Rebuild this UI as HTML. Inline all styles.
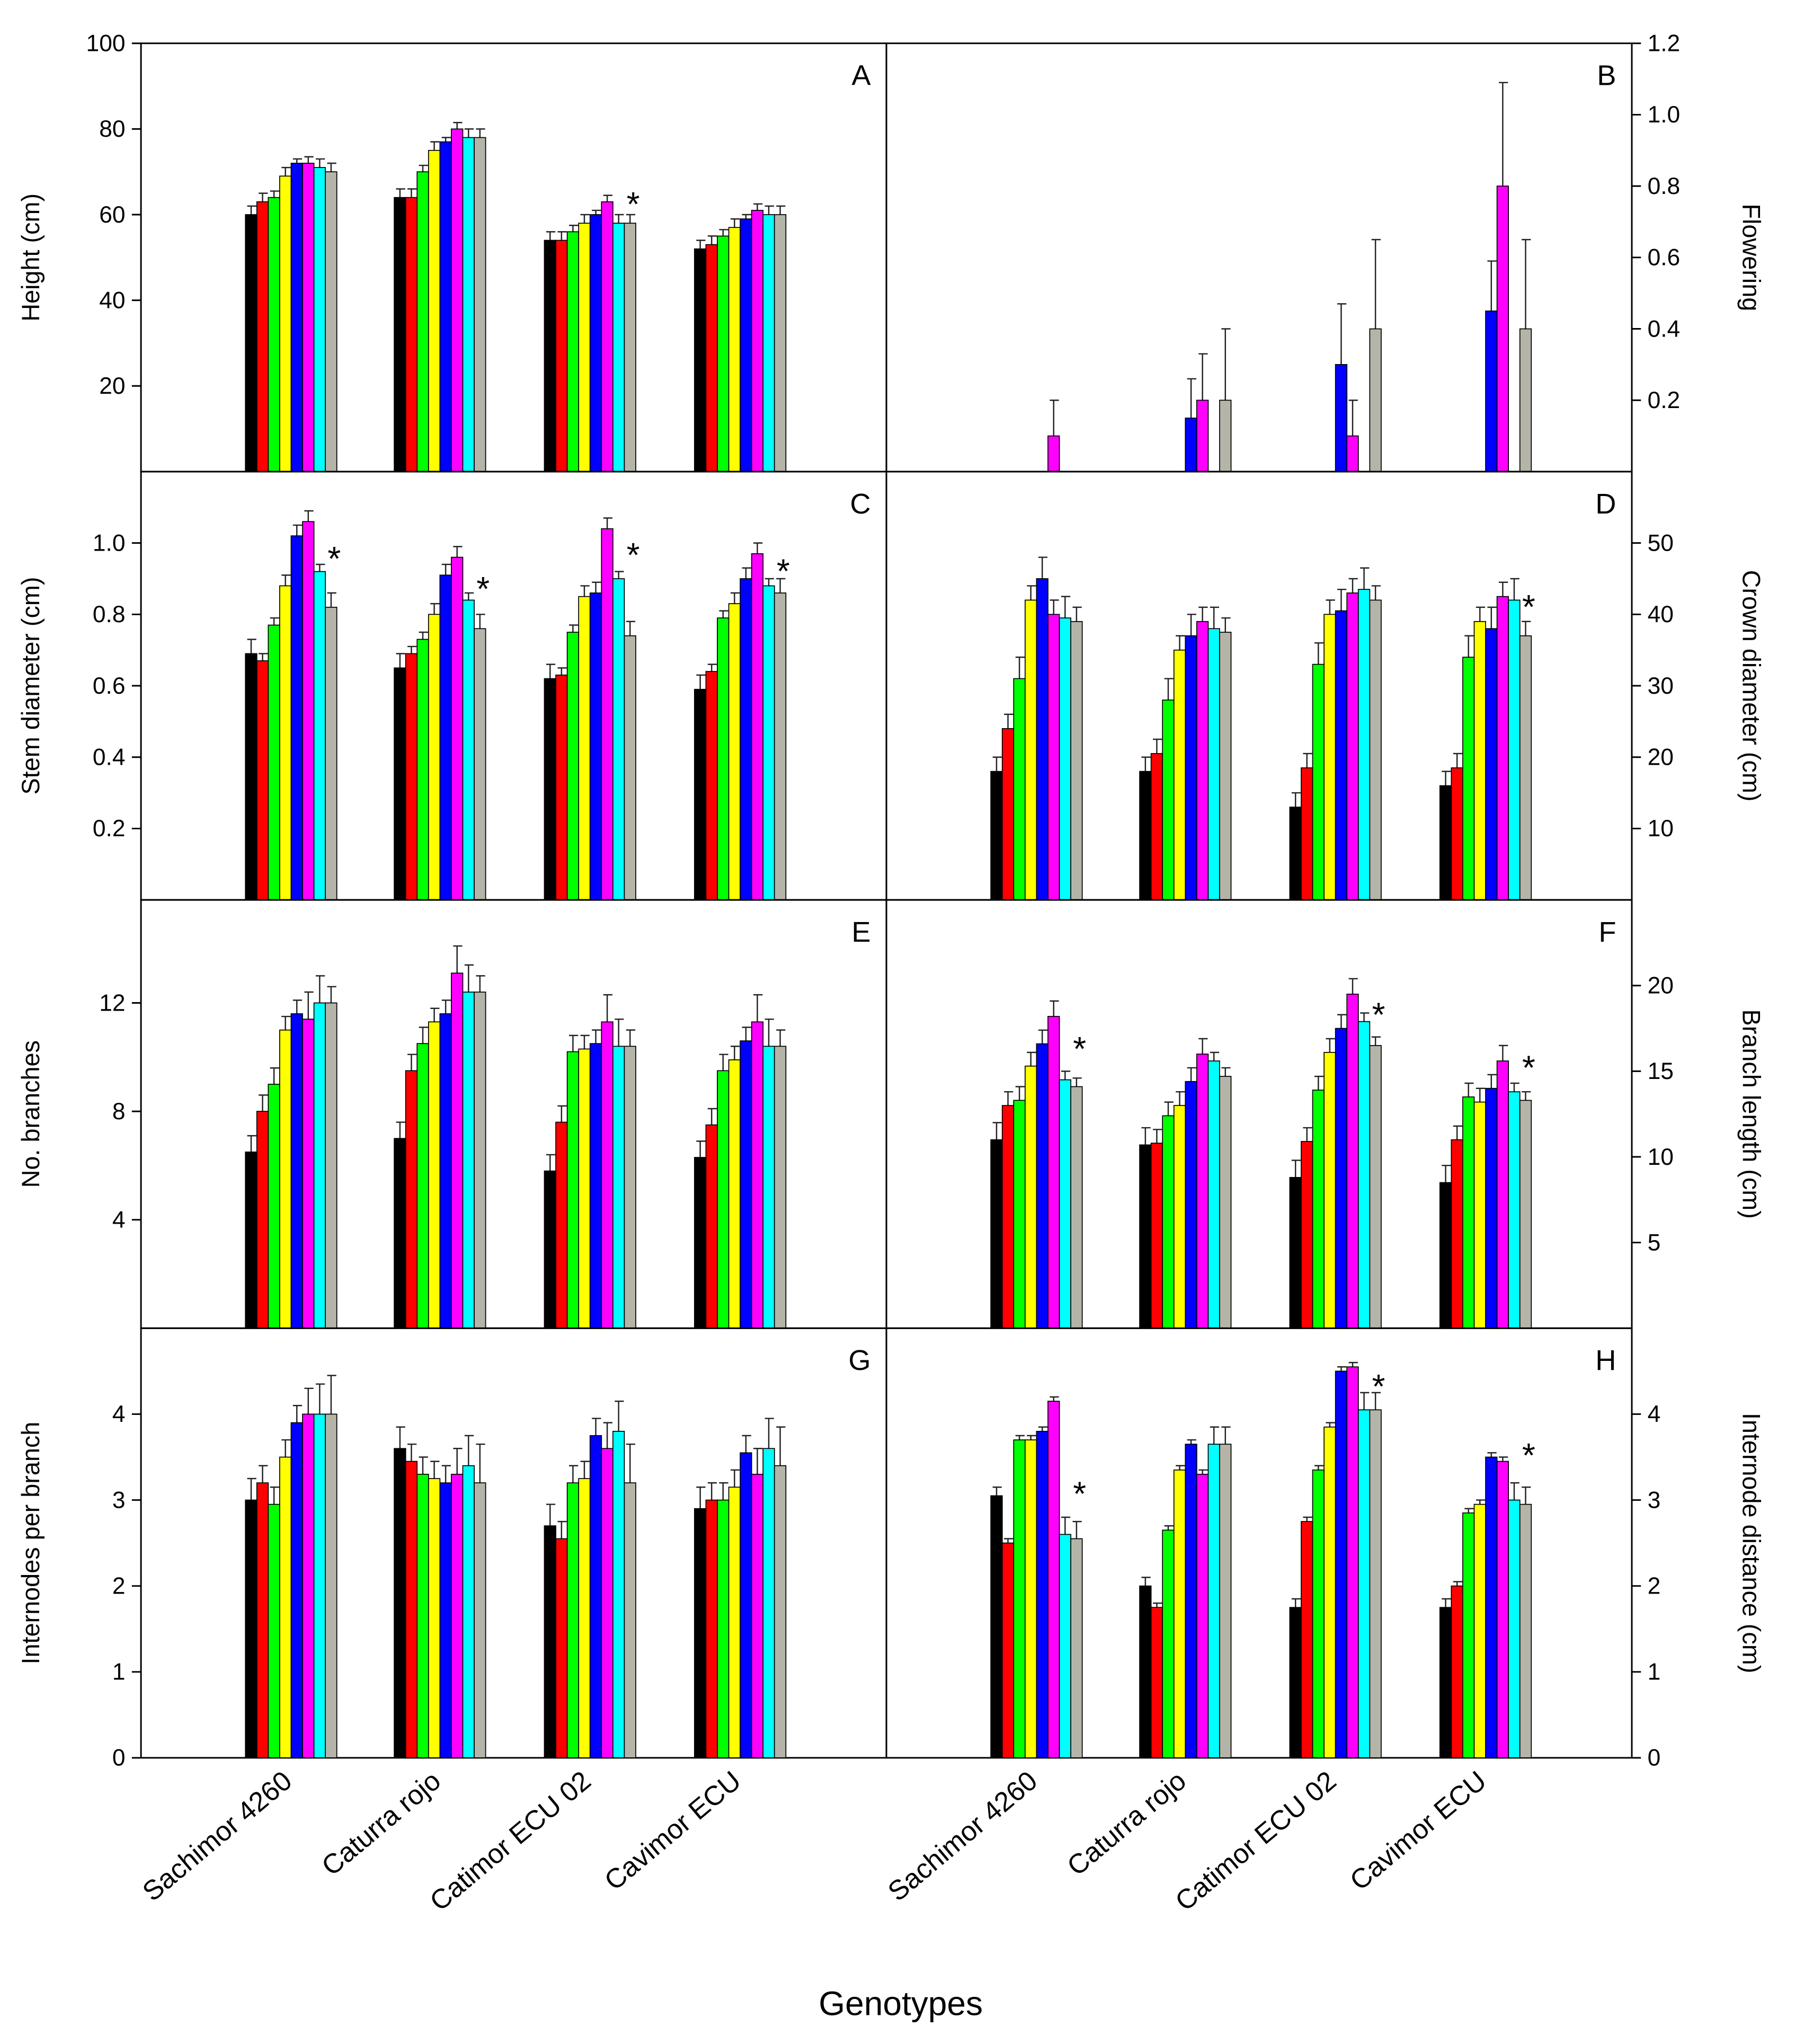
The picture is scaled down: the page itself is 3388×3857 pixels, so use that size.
<!DOCTYPE html>
<html><head><meta charset="utf-8"><style>
html,body{margin:0;padding:0;background:#fff}
svg{display:block}
text{font-family:"Liberation Sans",sans-serif;fill:#000}
</style></head><body>
<svg id="chart" width="3388" height="3857" viewBox="0 0 1375 1565" xmlns="http://www.w3.org/2000/svg">
<rect x="0" y="0" width="1375" height="1565" fill="#fff"/>
<g id="marks"></g>
<text x="690" y="1543" font-size="26" text-anchor="middle">Genotypes</text>
</svg>
<script>
const categories = ["Sachimor 4260","Caturra rojo","Catimor ECU 02","Cavimor ECU"];
const colors = ["#000000","#ff0000","#00ff00","#ffff00","#0000ff","#ff00ff","#00ffff","#b4b4a8"];
const heightVals = [[60,63,64,69,72,72,71,70],[64,64,70,75,77,80,78,78],[54,54,56,58,60,63,58,58],[52,53,55,57,59,61,60,60]];
const heightErr = [2,2,1.5,2,1,1.5,2,2];
const flowerVals = [[0,0,0,0,0,0.1,0,0],[0,0,0,0,0.15,0.2,0,0.2],[0,0,0,0,0.3,0.1,0,0.4],[0,0,0,0,0.45,0.8,0,0.4]];
const flowerErr = [[0,0,0,0,0,0.1,0,0],[0,0,0,0,0.11,0.13,0,0.2],[0,0,0,0,0.17,0.1,0,0.25],[0,0,0,0,0.14,0.29,0,0.25]];
const stemVals = [[0.69,0.67,0.77,0.88,1.02,1.06,0.92,0.82],[0.65,0.69,0.73,0.80,0.91,0.96,0.84,0.76],[0.62,0.63,0.75,0.85,0.86,1.04,0.90,0.74],[0.59,0.64,0.79,0.83,0.90,0.97,0.88,0.86]];
const stemErr = [0.04,0.02,0.02,0.03,0.03,0.03,0.02,0.04];
const crownVals = [[18,24,31,42,45,40,39.5,39],[18,20.5,28,35,37,39,38,37.5],[13,18.5,33,40,40.5,43,43.5,42],[16,18.5,34,39,38,42.5,42,37]];
const crownErr = [2,2,3,2,3,2,3,2];
const branchVals = [[6.5,8,9,11,11.6,11.4,12,12],[7,9.5,10.5,11.3,11.6,13.1,12.4,12.4],[5.8,7.6,10.2,10.3,10.5,11.3,10.4,10.4],[6.3,7.5,9.5,9.9,10.6,11.3,10.4,10.4]];
const branchErr = [0.6,0.6,0.6,0.5,0.5,1.0,1.0,0.6];
const blenVals = [[11,13,13.3,15.3,16.6,18.2,14.5,14.1],[10.7,10.8,12.4,13,14.4,16,15.6,14.7],[8.8,10.9,13.9,16.1,17.5,19.5,17.9,16.5],[8.5,11,13.5,13.2,14,15.6,13.8,13.3]];
const blenErr = [1,0.8,0.8,0.8,0.8,0.9,0.5,0.5];
const interVals = [[3.0,3.2,2.95,3.5,3.9,4.0,4.0,4.0],[3.6,3.45,3.3,3.25,3.2,3.3,3.4,3.2],[2.7,2.55,3.2,3.25,3.75,3.6,3.8,3.2],[2.9,3.0,3.0,3.15,3.55,3.3,3.6,3.4]];
const interErr = [0.25,0.2,0.2,0.2,0.2,0.3,0.35,0.45];
const idistVals = [[3.05,2.5,3.7,3.7,3.8,4.15,2.6,2.55],[2.0,1.75,2.65,3.35,3.65,3.3,3.65,3.65],[1.75,2.75,3.35,3.85,4.5,4.55,4.05,4.05],[1.75,2.0,2.85,2.95,3.5,3.45,3.0,2.95]];
const idistErr = [0.1,0.05,0.05,0.05,0.05,0.05,0.2,0.2];
const heightTicks = [20,40,60,80,100];
const flowerTicks = [0.2,0.4,0.6,0.8,1.0,1.2];
const stemTicks = [0.2,0.4,0.6,0.8,1.0];
const crownTicks = [10,20,30,40,50];
const branchTicks = [4,8,12];
const blenTicks = [5,10,15,20];
const interTicks = [0,1,2,3,4];
const idistTicks = [0,1,2,3,4];
const starsA = [2]; const starsAVal = [64];
const starsC = [0,1,2,3]; const starsCVal = [0.975,0.89,0.985,0.94];
const starsD = [3]; const starsDVal = [42];
const starsF = [0,2,3]; const starsFVal = [16.7,18.7,15.6];
const starsH = [0,2,3]; const starsHVal = [3.15,4.4,3.6];

const NS="http://www.w3.org/2000/svg";
const root=document.getElementById('marks');
function mk(tag,attrs,parent){const e=document.createElementNS(NS,tag);for(const k in attrs)e.setAttribute(k,attrs[k]);(parent||root).appendChild(e);return e;}
const panels=[
 {id:"A",side:"L",top:33,bot:361,max:100,vals:heightVals,err:heightErr,ticks:heightTicks,title:"Height (cm)",dec:0,stars:starsA,starV:starsAVal},
 {id:"B",side:"R",top:33,bot:361,max:1.2,vals:flowerVals,err:flowerErr,ticks:flowerTicks,title:"Flowering",dec:1,stars:[],starV:[]},
 {id:"C",side:"L",top:361,bot:689,max:1.2,vals:stemVals,err:stemErr,ticks:stemTicks,title:"Stem diameter (cm)",dec:1,stars:starsC,starV:starsCVal},
 {id:"D",side:"R",top:361,bot:689,max:60,vals:crownVals,err:crownErr,ticks:crownTicks,title:"Crown diameter (cm)",dec:0,stars:starsD,starV:starsDVal},
 {id:"E",side:"L",top:689,bot:1017,max:15.8,vals:branchVals,err:branchErr,ticks:branchTicks,title:"No. branches",dec:0,stars:[],starV:[]},
 {id:"F",side:"R",top:689,bot:1017,max:25,vals:blenVals,err:blenErr,ticks:blenTicks,title:"Branch length (cm)",dec:0,stars:starsF,starV:starsFVal},
 {id:"G",side:"L",top:1017,bot:1346,max:5,vals:interVals,err:interErr,ticks:interTicks,title:"Internodes per branch",dec:0,stars:[],starV:[]},
 {id:"H",side:"R",top:1017,bot:1346,max:5,vals:idistVals,err:idistErr,ticks:idistTicks,title:"Internode distance (cm)",dec:0,stars:starsH,starV:starsHVal}
];
const lx0=108,mid=679,rx1=1250;
const groupOffsetL=[223,337,452,567];
const bw=8.75;
panels.forEach(p=>{
 const x0=p.side==="L"?lx0:mid, x1=p.side==="L"?mid:rx1;
 const y=v=>p.bot-(v/p.max)*(p.bot-p.top);
 const g=mk('g',{});
 
 
 const fr=mk('rect',{x:x0,y:p.top,width:x1-x0,height:p.bot-p.top,fill:"none",stroke:"#000","stroke-width":1.2},g);
 
 
 const lt=mk('text',{x:x1-12,y:p.top+32,"font-size":22,"text-anchor":"end"},g);
 lt.textContent=p.id;
 
 
 const ax=p.side==="L"?x0:x1, dir=p.side==="L"?-1:1;
 p.ticks.forEach(t=>{
  const ty=y(t);
  mk('line',{x1:ax,x2:ax+dir*7,y1:ty,y2:ty,stroke:"#000","stroke-width":1.2},g);
  const tx=mk('text',{x:ax+dir*12,y:ty+6,"font-size":18,"text-anchor":p.side==="L"?"end":"start"},g);
  tx.textContent=t.toFixed(p.dec);
  
  
 });
 const tcx=p.side==="L"?30:1335, tcy=(p.top+p.bot)/2;
 const tt=mk('text',{x:tcx,y:tcy,"font-size":19,"text-anchor":"middle",transform:`rotate(${p.side==="L"?-90:90} ${tcx} ${tcy})`},g);
 tt.textContent=p.title;
 
 
 const off=p.side==="L"?0:(mid-lx0);
 p.vals.forEach((grp,gi)=>{
  const cx=groupOffsetL[gi]+off;
  grp.forEach((v,bi)=>{
   if(v<=0)return;
   const bx=cx-35+bi*bw;
   const e=Array.isArray(p.err[0])?p.err[gi][bi]:p.err[bi];
   const ey=y(v+e);
   mk('line',{x1:bx+bw/2,x2:bx+bw/2,y1:y(v),y2:ey,stroke:"#222","stroke-width":1},g);
   mk('line',{x1:bx+bw/2-3,x2:bx+bw/2+4,y1:ey,y2:ey,stroke:"#222","stroke-width":1},g);
   const r=mk('rect',{x:bx,y:y(v),width:bw,height:p.bot-y(v),fill:colors[bi],stroke:"#000","stroke-width":0.7},g);
   
   
  });
 });
 p.stars.forEach((gi,k)=>{
  const s=mk('text',{x:groupOffsetL[gi]+off+33,y:y(p.starV[k])+14,"font-size":26,"text-anchor":"middle"},g);
  s.textContent="*";
  
  
 });
});
[0,mid-lx0].forEach(off=>{
 categories.forEach((c,gi)=>{
  const x=groupOffsetL[gi]+off+2,yy=1366;
  const t=mk('text',{x:x,y:yy,"font-size":21,"text-anchor":"end",transform:`rotate(-40 ${x} ${yy})`});
  t.textContent=c;
  
  
 });
});
</script>
</body></html>
